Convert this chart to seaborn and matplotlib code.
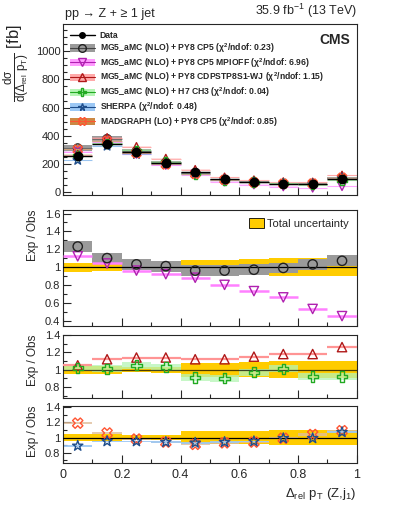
import numpy as np
import pandas as pd
import matplotlib
matplotlib.use('Agg')
import matplotlib.pyplot as plt
from matplotlib.patches import Patch
from matplotlib.lines import Line2D
from matplotlib.ticker import MultipleLocator, FuncFormatter
import seaborn as sns

# binning in Delta_rel pT (Z, j1)
bin_edges = [0.0, 0.1, 0.2, 0.3, 0.4, 0.5, 0.6, 0.7, 0.8, 0.9, 1.0]

# measured cross section [fb]
data_xsec = [255, 345, 283, 210, 143, 95, 75, 62, 60, 95]
data_err = [6, 8, 6, 5, 4, 3, 3, 2, 2, 3]
total_unc = [0.05, 0.045, 0.03, 0.035, 0.08, 0.08, 0.09, 0.10, 0.10, 0.10]

# Exp / Obs ratios
r_cp5 = [1.23, 1.10, 1.03, 1.01, 0.96, 0.96, 0.97, 0.99, 1.03, 1.07]
r_mpioff = [1.12, 1.04, 0.96, 0.92, 0.88, 0.80, 0.73, 0.66, 0.53, 0.45]
r_cdps = [1.05, 1.12, 1.14, 1.14, 1.12, 1.12, 1.15, 1.18, 1.18, 1.26]
r_h7 = [1.02, 1.01, 1.05, 1.03, 0.91, 0.90, 0.97, 1.01, 0.92, 0.92]
r_sherpa = [0.89, 0.95, 0.95, 0.94, 0.93, 0.94, 0.95, 0.99, 0.99, 1.07]
r_madgraph = [1.19, 1.06, 0.98, 0.94, 0.91, 0.93, 0.94, 0.99, 1.04, 1.09]

# theory uncertainties (relative)
u_cp5 = 0.06
u_mpioff = 0.008
u_cdps = 0.008
u_h7 = 0.04
u_sherpa = 0.01
u_madgraph = 0.015

labels = ['Data',
          'MG5_aMC (NLO) + PY8 CP5 ($\\chi^2$/ndof: 0.23)',
          'MG5_aMC (NLO) + PY8 CP5 MPIOFF ($\\chi^2$/ndof: 6.96)',
          'MG5_aMC (NLO) + PY8 CDPSTP8S1-WJ ($\\chi^2$/ndof: 1.15)',
          'MG5_aMC (NLO) + H7 CH3 ($\\chi^2$/ndof: 0.04)',
          'SHERPA ($\\chi^2$/ndof: 0.48)',
          'MADGRAPH (LO) + PY8 CP5 ($\\chi^2$/ndof: 0.85)']

edges = np.array(bin_edges)
lo = edges[:-1]
hi = edges[1:]
centers = 0.5 * (lo + hi)
width = hi - lo
data = np.array(data_xsec, dtype=float)

# model styles: (ratio, unc, band colour, line colour, marker, marker colour, size)
models = {
    'cp5': (r_cp5, u_cp5, '#9a9a9a', '#555555', 'o', '#222222', 45),
    'mpioff': (r_mpioff, u_mpioff, '#ff99ff', '#ff80ff', 'v', '#b020b0', 45),
    'cdps': (r_cdps, u_cdps, '#ffaaaa', '#ff9494', '^', '#b01818', 45),
    'h7': (r_h7, u_h7, '#b5f5b5', '#88e088', 'P', '#22aa22', 55),
    'sherpa': (r_sherpa, u_sherpa, '#9cc8f5', '#80b4ea', '*', '#1f4e8c', 60),
    'madgraph': (r_madgraph, u_madgraph, '#dfbe9c', '#d9a070', 'X', '#ff5533', 55),
}

sns.set_style('ticks')
plt.rcParams['font.family'] = ['Liberation Sans', 'DejaVu Sans']
plt.rcParams['mathtext.default'] = 'regular'


def band(ax, center, half, color, alpha=1.0, z=1):
    ax.bar(lo, 2 * half, bottom=center - half, width=width, align='edge',
           color=color, alpha=alpha, linewidth=0, zorder=z)


def markers(ax, y, marker, color, size, z=5):
    sns.scatterplot(x=centers, y=y, marker=marker, s=size, facecolors='none',
                    edgecolor=color, linewidth=1.0, ax=ax, zorder=z, legend=False)


def style_axis(ax):
    ax.set_xlim(0, 1)
    ax.xaxis.set_major_locator(MultipleLocator(0.2))
    ax.xaxis.set_minor_locator(MultipleLocator(0.1))
    ax.tick_params(which='both', direction='in', top=False, right=False,
                   labelsize=8, pad=2)
    ax.tick_params(which='major', length=6, width=0.8)
    ax.tick_params(which='minor', length=3, width=0.8)
    for s in ax.spines.values():
        s.set_linewidth(0.8)
        s.set_visible(True)
    ax.yaxis.set_major_formatter(FuncFormatter(lambda v, p: f'{v:g}'))
    ax.xaxis.set_major_formatter(FuncFormatter(lambda v, p: f'{v:g}'))


fig = plt.figure(figsize=(3.99, 5.19), dpi=100)
ax0 = fig.add_axes([0.158, 0.624, 0.736, 0.329])
ax1 = fig.add_axes([0.158, 0.372, 0.736, 0.2235])
ax2 = fig.add_axes([0.158, 0.2326, 0.736, 0.122])
ax3 = fig.add_axes([0.158, 0.1073, 0.736, 0.111])

# ---- top panel: cross section
for key, (r, u, bc, lc, mk, mc, sz) in models.items():
    pred = data * np.array(r)
    a = 1.0 if key == 'cp5' else 0.35
    band(ax0, pred, pred * u if key == 'cp5' else pred * max(u, 0.02), bc, alpha=a, z=1)
    ax0.hlines(pred, lo, hi, color=lc, lw=0.8, alpha=0.7, zorder=2)
    markers(ax0, pred, mk, mc, sz * 0.8, z=4)
ax0.errorbar(centers, data, xerr=width / 2, yerr=data_err, fmt='o', color='black',
             markersize=6, elinewidth=1.0, capsize=0, zorder=6)
style_axis(ax0)
ax0.set_ylim(-20, 1190)
ax0.yaxis.set_major_locator(MultipleLocator(200))
ax0.yaxis.set_minor_locator(MultipleLocator(50))
ax0.tick_params(labelbottom=False)
ax0.set_ylabel(r'$\frac{d\sigma}{d(\Delta_{rel}\ p_{T})}$ [fb]', fontsize=12, loc='top',
               labelpad=2)

handles = [Line2D([], [], color='black', marker='o', markersize=4, lw=1)]
for key, (r, u, bc, lc, mk, mc, sz) in models.items():
    fc = '#cc8844' if key == 'madgraph' else bc
    handles.append((Patch(facecolor=fc, edgecolor='none'),
                    Line2D([], [], color=mc if key != 'cp5' else '#444444', lw=0.8,
                           marker=mk, markersize=5.5, markerfacecolor='none',
                           markeredgecolor=mc)))
ax0.legend(handles, labels, loc='upper left', bbox_to_anchor=(0.005, 0.99),
           frameon=False, prop={'weight': 'bold', 'size': 6.2},
           handlelength=2.9, handleheight=0.95, labelspacing=0.12,
           handletextpad=0.6, borderaxespad=0.2)
ax0.text(0.977, 0.949, 'CMS', transform=ax0.transAxes, ha='right', va='top',
         fontsize=10, fontweight='bold')

fig.text(0.162, 0.962, 'pp → Z + ≥ 1 jet', ha='left', va='bottom', fontsize=9)
fig.text(0.894, 0.962, '35.9 fb$^{-1}$ (13 TeV)', ha='right', va='bottom', fontsize=9)

tu = np.array(total_unc)

# ---- ratio panel 1: CP5 and MPIOFF
band(ax1, 1.0, tu, '#ffcc00', z=1)
r, u, bc, lc, mk, mc, sz = models['cp5']
band(ax1, np.array(r), u, bc, z=2)
ax1.axhline(1.0, color='black', lw=0.9, zorder=3)
r, u, bc, lc, mk, mc, sz = models['mpioff']
ax1.hlines(r, lo, hi, color=lc, lw=1.8, zorder=3)
markers(ax1, r, mk, mc, sz, z=5)
r, u, bc, lc, mk, mc, sz = models['cp5']
markers(ax1, r, mk, mc, sz, z=5)
style_axis(ax1)
ax1.set_ylim(0.34, 1.64)
ax1.yaxis.set_major_locator(MultipleLocator(0.2))
ax1.yaxis.set_minor_locator(MultipleLocator(0.1))
ax1.tick_params(labelbottom=False)
ax1.set_ylabel('Exp / Obs', fontsize=8.5, loc='top')
ax1.legend([Patch(facecolor='#ffcc00', edgecolor='black', lw=0.6)], ['Total uncertainty'],
           loc='upper right', frameon=False, fontsize=8, handlelength=1.3,
           handleheight=1.1, handletextpad=0.3, borderaxespad=0.3)

# ---- ratio panel 2: CDPS and H7
band(ax2, 1.0, tu, '#ffcc00', z=1)
r, u, bc, lc, mk, mc, sz = models['h7']
band(ax2, np.array(r), u, bc, alpha=0.75, z=2)
ax2.axhline(1.0, color='black', lw=0.9, alpha=0.7, zorder=3)
r, u, bc, lc, mk, mc, sz = models['cdps']
ax2.hlines(r, lo, hi, color=lc, lw=1.6, zorder=3)
markers(ax2, r, mk, mc, sz, z=5)
r, u, bc, lc, mk, mc, sz = models['h7']
markers(ax2, r, mk, mc, sz, z=5)
style_axis(ax2)
ax2.set_ylim(0.67, 1.4)
ax2.yaxis.set_major_locator(MultipleLocator(0.2))
ax2.yaxis.set_minor_locator(MultipleLocator(0.1))
ax2.tick_params(labelbottom=False)
ax2.set_ylabel('Exp / Obs', fontsize=8.5, loc='top')

# ---- ratio panel 3: SHERPA and MADGRAPH
band(ax3, 1.0, tu, '#ffcc00', z=1)
r, u, bc, lc, mk, mc, sz = models['madgraph']
band(ax3, np.array(r), u, bc, alpha=0.8, z=2)
r, u, bc, lc, mk, mc, sz = models['sherpa']
band(ax3, np.array(r), u, bc, alpha=0.9, z=2)
ax3.axhline(1.0, color='black', lw=0.9, zorder=3)
r, u, bc, lc, mk, mc, sz = models['madgraph']
markers(ax3, r, mk, mc, sz, z=5)
r, u, bc, lc, mk, mc, sz = models['sherpa']
markers(ax3, r, mk, mc, sz, z=6)
style_axis(ax3)
ax3.set_ylim(0.66, 1.42)
ax3.yaxis.set_major_locator(MultipleLocator(0.2))
ax3.yaxis.set_minor_locator(MultipleLocator(0.1))
ax3.set_ylabel('Exp / Obs', fontsize=8.5, loc='top')
ax3.tick_params(axis='x', labelsize=9, pad=4)
ax3.set_xlabel(r'$\Delta_{rel}\ p_{T}$ (Z,j$_{1}$)', fontsize=9.5, loc='right')

fig.savefig('out.png', dpi=100)
